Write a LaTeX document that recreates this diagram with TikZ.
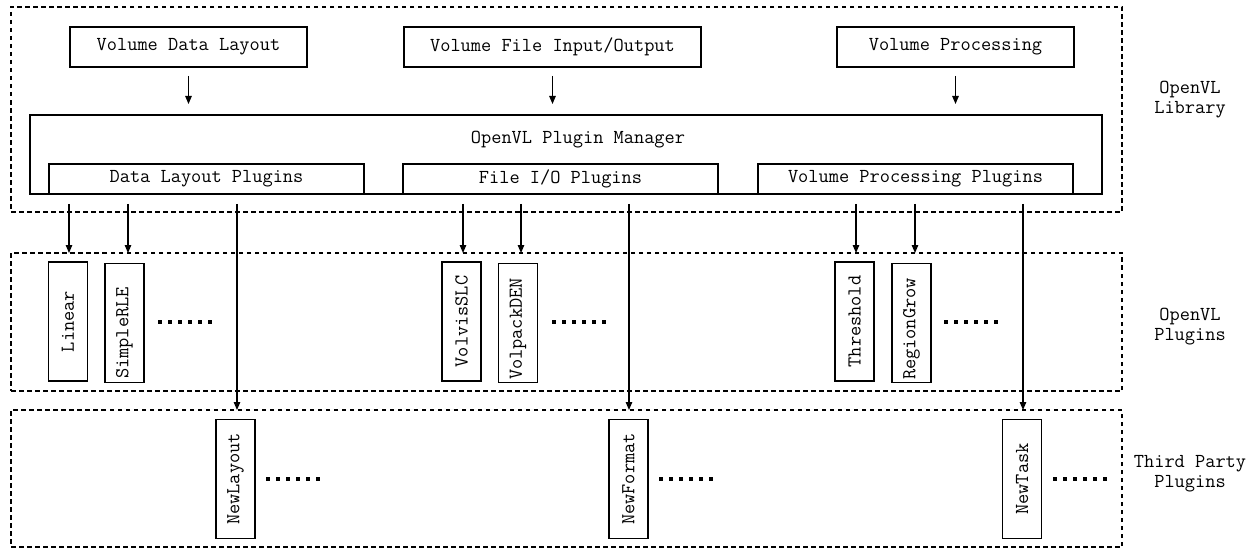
\documentclass[tikz,border=0pt]{standalone}
\usepackage{fontspec}
\usetikzlibrary{arrows.meta}

\begin{document}
\begin{tikzpicture}[x=1pt, y=-1pt,
  every node/.style={font=\ttfamily\fontsize{19.8}{20}\selectfont, inner sep=0pt, outer sep=0pt},
  group/.style={draw, line width=2.9pt, dash pattern=on 4.5pt off 3.5pt, minimum width=1111pt},
  topbox/.style={draw, line width=2.7pt, minimum width=237pt, minimum height=40pt},
  thinbox/.style={draw, line width=1.4pt},
  subbox/.style={thinbox, minimum width=315pt, minimum height=30pt},
  plug/.style={draw, line width=1.5pt, rotate=90, minimum width=119pt, minimum height=39pt},
  side/.style={align=center},
  arr/.style={line width=1.2pt, -{Triangle[length=8pt,width=6.5pt]}},
  dots/.style={line width=4pt, dash pattern=on 4pt off 6pt}
]
\useasboundingbox (0,0) rectangle (1255,548);

% three layers
\node[group, minimum height=205pt] (lib) at (566.5,109.5) {};
\node[group, minimum height=138pt] (ovp) at (566.5,322) {};
\node[group, minimum height=137pt] (tpp) at (566.5,478.5) {};

\node[side] (libl) at (1190,100) {OpenVL\\Library};
\node[side] (ovpl) at (1190,327) {OpenVL\\Plugins};
\node[side] (tppl) at (1190,474) {Third Party\\Plugins};

% library interfaces
\node[topbox] (vdl) at (188.5,47) {Volume Data Layout};
\node[topbox, minimum width=297pt] (vfio) at (552.5,47) {Volume File Input/Output};
\node[topbox] (vproc) at (955.5,47) {Volume Processing};

% plugin manager
\node[thinbox, minimum width=1072pt, minimum height=79pt] (mgr) at (566,154.5) {};
\node (mgrl) at (578,140) {OpenVL Plugin Manager};
\node[subbox] (dlp) at (206.5,179) {Data Layout Plugins};
\node[subbox] (fiop) at (560.5,179) {File I/O Plugins};
\node[subbox] (vpp) at (915.5,179) {Volume Processing Plugins};

\foreach \b in {vdl,vfio,vproc}
  \draw[arr] ([yshift=-9pt]\b.south) -- ([yshift=11pt]\b.south |- mgr.north);

% bundled plugins
\node[plug] (lin) at (68,321.5) {Linear};
\node[plug] (srle) at (124.5,323) {SimpleRLE\hspace*{20pt}};
\node[plug] (vslc) at (461.5,321.5) {VolvisSLC};
\node[plug] (vden) at (518,323) {VolpackDEN\hspace*{12pt}};
\node[plug] (thr) at (854.5,321.5) {Threshold};
\node[plug] (rgr) at (911.5,323) {RegionGrow\hspace*{12pt}};

% third party plugins
\node[plug] (nlay) at (235.5,479) {NewLayout};
\node[plug] (nfmt) at (628.5,479) {NewFormat};
\node[plug] (ntsk) at (1022,479) {NewTask};

% plugin links
\coordinate (s1) at (69,204);
\coordinate (s2) at (128,204);
\coordinate (s3) at (237,204);
\coordinate (s4) at (463,204);
\coordinate (s5) at (521,204);
\coordinate (s6) at (629,204);
\coordinate (s7) at (856,204);
\coordinate (s8) at (915,204);
\coordinate (s9) at (1023,204);
\foreach \s in {s1,s2,s4,s5,s7,s8}
  \draw[arr] (\s) -- (\s |- ovp.north);
\foreach \s in {s3,s6,s9}
  \draw[arr] (\s) -- (\s |- tpp.north);

% ellipses
\draw[dots] (158,322) -- (212,322);
\draw[dots] (552,322) -- (606,322);
\draw[dots] (944,322) -- (998,322);
\draw[dots] (266,479) -- (320,479);
\draw[dots] (659,479) -- (713,479);
\draw[dots] (1053,479) -- (1107,479);
\end{tikzpicture}
\end{document}
